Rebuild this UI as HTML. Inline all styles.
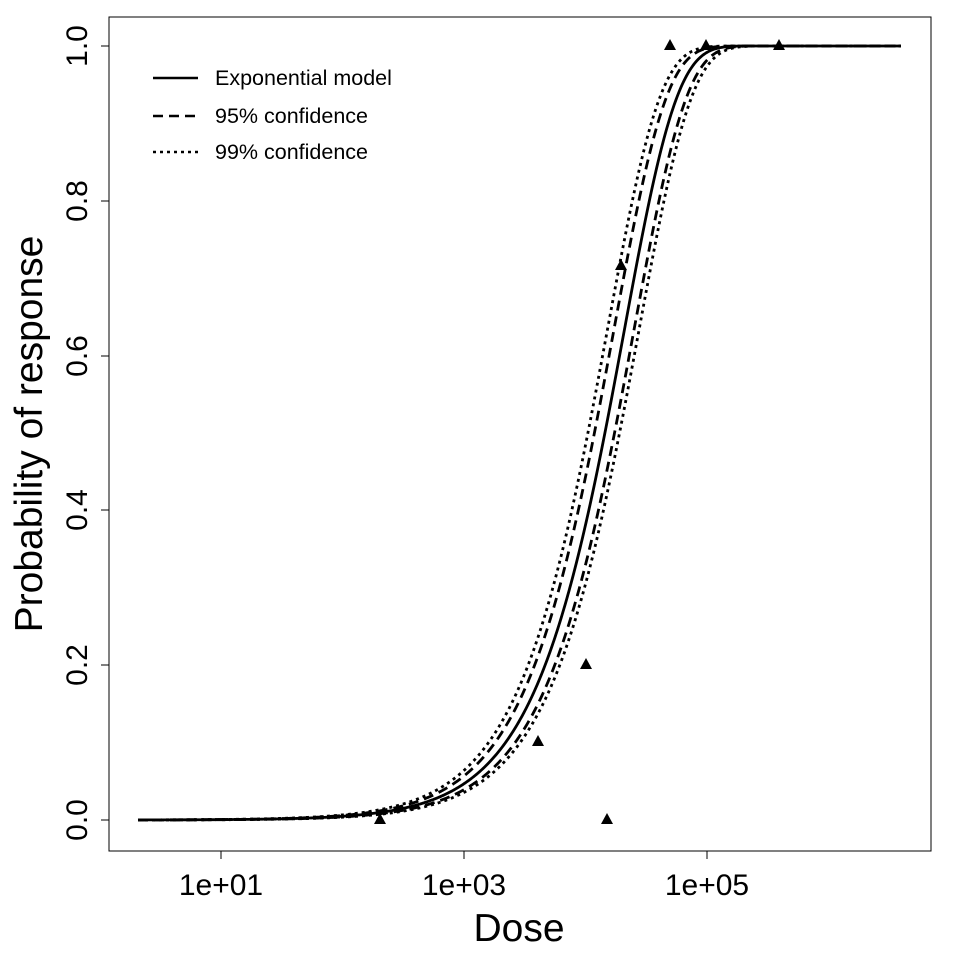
<!DOCTYPE html>
<html><head><meta charset="utf-8"><style>body{margin:0;background:#fff}svg{display:block}</style></head>
<body>
<svg id="s" width="960" height="960" xmlns="http://www.w3.org/2000/svg" font-family="Liberation Sans, Arial, sans-serif">
<rect x="0" y="0" width="960" height="960" fill="#fff"/>
<rect x="109" y="17" width="822" height="834" fill="none" stroke="#000" stroke-width="1"/>
<g stroke="#000" stroke-width="1">
<line x1="221" y1="851" x2="707" y2="851"/>
<line x1="221" y1="851" x2="221" y2="859"/><line x1="464" y1="851" x2="464" y2="859"/><line x1="707" y1="851" x2="707" y2="859"/>
<line x1="109" y1="46" x2="109" y2="820"/>
<line x1="101" y1="820" x2="109" y2="820"/><line x1="101" y1="665" x2="109" y2="665"/><line x1="101" y1="510" x2="109" y2="510"/><line x1="101" y1="356" x2="109" y2="356"/><line x1="101" y1="201" x2="109" y2="201"/><line x1="101" y1="46" x2="109" y2="46"/>
</g>
<g font-size="30" text-anchor="middle">
<text x="221" y="895">1e+01</text><text x="464" y="895">1e+03</text><text x="707" y="895">1e+05</text>
<text transform="translate(87,820) rotate(-90)">0.0</text>
<text transform="translate(87,665) rotate(-90)">0.2</text>
<text transform="translate(87,510) rotate(-90)">0.4</text>
<text transform="translate(87,356) rotate(-90)">0.6</text>
<text transform="translate(87,201) rotate(-90)">0.8</text>
<text transform="translate(87,46) rotate(-90)">1.0</text>
</g>
<text x="519" y="941" font-size="39" text-anchor="middle">Dose</text>
<text transform="translate(42,434) rotate(-90)" font-size="39" text-anchor="middle">Probability of response</text>
<g id="curves" fill="none" stroke="#000"></g>
<g id="pts" fill="#000"></g>
<g stroke="#000" stroke-width="2.5">
<line x1="153" y1="78" x2="198" y2="78"/>
<line x1="153" y1="116" x2="198" y2="116" stroke-dasharray="10,6"/>
<line x1="153" y1="152" x2="198" y2="152" stroke-dasharray="3,4"/>
</g>
<g font-size="21.5"><text x="215" y="85">Exponential model</text><text x="215" y="123">95% confidence</text><text x="215" y="159">99% confidence</text></g>
</svg>
<script>
var NS="http://www.w3.org/2000/svg";
function X(l){return 221+(l-1)*121.5}
function Y(p){return 820-p*774}
var k=4.8e-5;
var sets=[[k,""],[k*1.22,"10,6"],[k/1.2,"10,6"],[k*1.38,"3,4"],[k/1.32,"3,4"]];
var g=document.getElementById("curves");
sets.forEach(function(s){var d="";for(var x=138;x<=901;x+=1){var l=1+(x-221)/121.5;var p=1-Math.exp(-s[0]*Math.pow(10,l));d+=(x==138?"M":"L")+x+","+Y(p).toFixed(2);}
var e=document.createElementNS(NS,"path");e.setAttribute("d",d);e.setAttribute("stroke-width","2.8");if(s[1])e.setAttribute("stroke-dasharray",s[1]);g.appendChild(e);});
var pts=[[380,820],[538,742],[586,665],[607,820],[621,266],[670,46],[706,46],[779,46]];
var pg=document.getElementById("pts");
pts.forEach(function(q){var e=document.createElementNS(NS,"polygon");e.setAttribute("points",(q[0])+","+(q[1]-7)+" "+(q[0]-6)+","+(q[1]+4)+" "+(q[0]+6)+","+(q[1]+4));pg.appendChild(e);});
</script>
</body></html>
